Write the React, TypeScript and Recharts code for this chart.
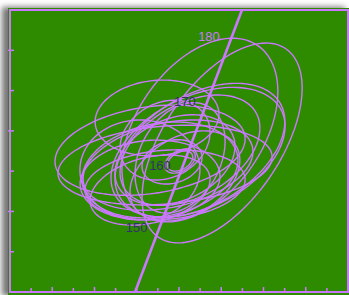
import React from 'react';
import { ComposedChart, Line, XAxis, YAxis, ReferenceArea, Scatter } from 'recharts';

// Ellipses (center, half-extent along x / y, correlation giving the tilt), in axis units
const ellipseCx = [10.04, 8.99, 6.96, 8.99, 8.9, 6.63, 7.34, 7.48, 7.1, 7.81, 8.05, 8.05, 7.67, 6.63, 7.34, 8.52, 6.15, 6.63, 8.28, 7.34, 8.05];
const ellipseCy = [3.7, 4.02, 4.32, 3.52, 3.47, 3.52, 3.15, 3.15, 3.03, 3.28, 3.33, 3.25, 3.23, 2.78, 2.66, 3.52, 3.03, 2.53, 2.88, 3.77, 3.25];
const ellipseSx = [3.79, 3.69, 2.93, 4.02, 4.12, 4.5, 5.07, 4.02, 3.69, 2.84, 2.13, 0.6, 1.42, 3.31, 3.79, 3.31, 2.84, 2.84, 2.6, 2.13, 0.72];
const ellipseSy = [2.48, 2.28, 0.94, 1.66, 1.61, 1.12, 0.99, 1.12, 1.19, 1.12, 1.37, 0.25, 0.55, 0.99, 0.87, 1.37, 1.24, 0.87, 1.12, 0.99, 0.3];
const ellipseRho = [0.55, 0.42, 0.1, 0.43, 0.4, 0.25, 0.2, 0.3, 0.2, 0.3, 0.3, 0.4, 0.2, 0.1, 0.15, 0.4, 0.0, 0.3, 0.35, 0.2, 0.4];

// Fitted line end points
const fitX = [5.92, 10.98];
const fitY = [0, 7];

// Labels along the line
const labelText = ['150', '160', '170', '180'];
const labelX = [5.99, 7.1, 8.28, 9.42];
const labelY = [1.59, 3.15, 4.72, 6.33];
const labelColor = ['#333366', '#333366', '#333366', '#cc77ff'];

const xTicks = [1, 2, 3, 4, 5, 6, 7, 8, 9, 10, 11, 12, 13, 14, 15];
const yTicks = [1, 2, 3, 4, 5, 6];

const PURPLE = '#cc77ff';
const GREEN = '#2e8b00';

const STEPS = 120;
function ellipsePoints(i: number) {
  const pts: { x: number; y: number }[] = [];
  const d = Math.acos(ellipseRho[i]);
  for (let k = 0; k <= STEPS; k++) {
    const t = (2 * Math.PI * k) / STEPS;
    pts.push({ x: ellipseCx[i] + ellipseSx[i] * Math.cos(t), y: ellipseCy[i] + ellipseSy[i] * Math.cos(t - d) });
  }
  return pts;
}

const fitData = fitX.map((x, i) => ({ x, y: fitY[i] }));
const labelData = labelText.map((t, i) => ({ x: labelX[i], y: labelY[i], text: t, color: labelColor[i] }));

const XTick = (props: any) => {
  const { x, y, payload } = props;
  const major = payload.value % 2 === 0;
  return <line x1={x} x2={x} y1={major ? y - 5 : y - 4} y2={y} stroke={PURPLE} strokeWidth={1.5} />;
};
const YTick = (props: any) => {
  const { x, y, payload } = props;
  const major = payload.value % 2 === 0;
  return <line x1={major ? x - 3 : x} x2={x + 4} y1={y} y2={y} stroke={PURPLE} strokeWidth={1.5} />;
};

const LabelShape = (props: any) => {
  const { cx, cy, payload } = props;
  return (
    <text x={cx} y={cy} textAnchor="middle" dominantBaseline="central" fontSize={13}
      fontFamily="Liberation Sans, Arial, sans-serif" fill={payload.color}>
      {payload.text}
    </text>
  );
};

export default function App() {
  return (
    <div style={{ position: 'absolute', left: 8, top: 8, width: 341, height: 287, background: GREEN,
      boxShadow: '-5px 0px 6px 1px rgba(0,0,0,0.55)' }}>
      <ComposedChart width={341} height={287} margin={{ top: 2, left: 1, right: 1, bottom: 2 }}>
        <XAxis dataKey="x" type="number" domain={[0, 16]} ticks={xTicks} allowDataOverflow height={1}
          tickSize={0} tickMargin={0} tick={(p: any) => <XTick {...p} />} interval={0}
          axisLine={{ stroke: PURPLE, strokeWidth: 2 }} tickLine={false} />
        <YAxis type="number" domain={[0, 7]} ticks={yTicks} allowDataOverflow width={1}
          tickSize={0} tickMargin={0} tick={(p: any) => <YTick {...p} />} interval={0}
          axisLine={{ stroke: PURPLE, strokeWidth: 2 }} tickLine={false} />
        <ReferenceArea x1={0} x2={16} y1={0} y2={7} fill="none" stroke={PURPLE} strokeWidth={2} fillOpacity={0} />
        {ellipseCx.map((_, i) => (
          <Line key={i} data={ellipsePoints(i)} dataKey="y" type="linear" stroke={PURPLE} strokeWidth={1.4}
            dot={false} activeDot={false} isAnimationActive={false} />
        ))}
        <Line data={fitData} dataKey="y" type="linear" stroke={PURPLE} strokeWidth={2.6} dot={false}
          activeDot={false} isAnimationActive={false} />
        <Scatter data={labelData} dataKey="y" shape={(p: any) => <LabelShape {...p} />} isAnimationActive={false} />
      </ComposedChart>
    </div>
  );
}
